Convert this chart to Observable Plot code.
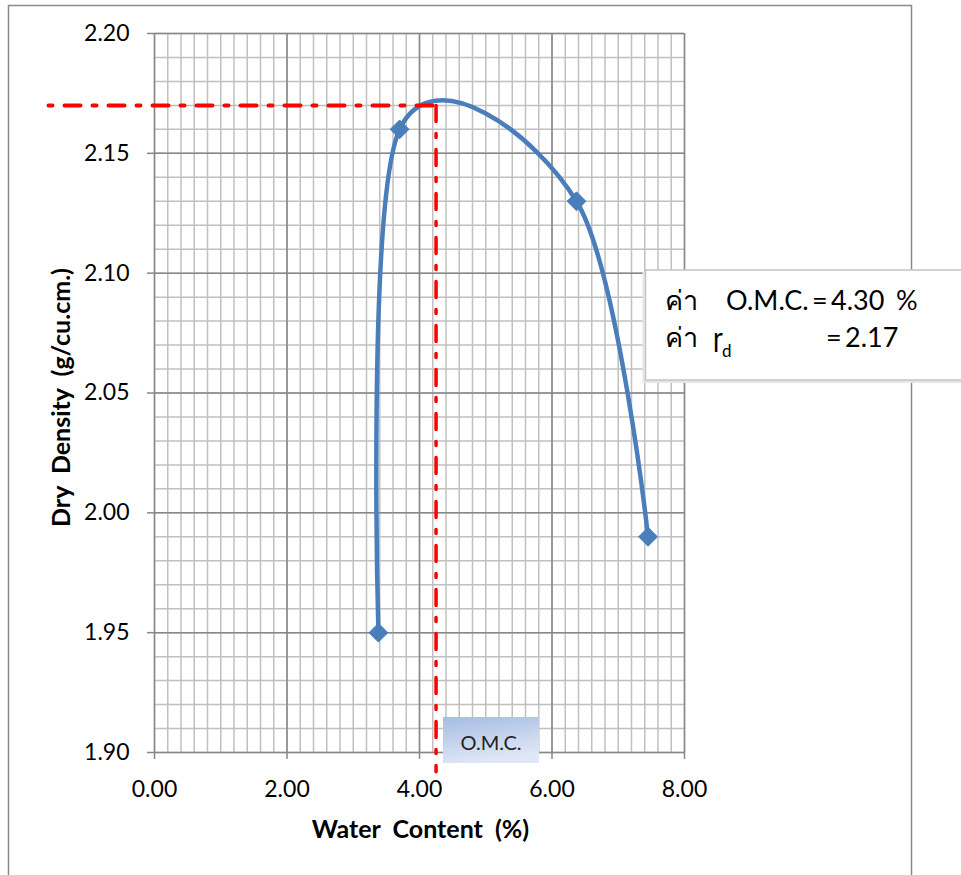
<!DOCTYPE html>
<html><head><meta charset="utf-8">
<script src="https://cdn.jsdelivr.net/npm/d3@7"></script>
<script src="https://cdn.jsdelivr.net/npm/@observablehq/plot@0.6"></script>
<style>
html,body{margin:0;padding:0;background:#fff;overflow:hidden;}
#chart{position:relative;width:961px;height:875px;}
</style></head><body><div id="chart"></div>
<script>
// ---- data ----
const waterContent = [3.38, 3.70, 6.37, 7.45];
const dryDensity = [1.95, 2.16, 2.13, 1.99];
const xTicks = [0, 2, 4, 6, 8];
const yTicks = [1.90, 1.95, 2.00, 2.05, 2.10, 2.15, 2.20];
const xMinorStep = 0.2, yMinorStep = 0.01;
const omcValue = 4.30, maxDryDensity = 2.17;
const guideX = [-1.6, 4.25];        // horizontal dash-dot guide (x from / to)
const guideY = [2.17, 1.892];       // vertical dash-dot guide (y from / to)
const xTitle = "Water\u00a0 Content\u00a0 (%)";
const yTitle = "Dry\u00a0 Density\u00a0 (g/cu.cm.)";

const points = waterContent.map((x, i) => ({x, y: dryDensity[i]}));
const hGuide = guideX.map(x => ({x, y: maxDryDensity}));
const vGuide = guideY.map(y => ({x: guideX[1], y}));
const xMinor = d3.range(0, Math.round(8 / xMinorStep) + 1).map(i => +(i * xMinorStep).toFixed(2));
const yMinor = d3.range(0, Math.round(0.30 / yMinorStep) + 1).map(i => +(1.90 + i * yMinorStep).toFixed(2));

const minor = {stroke: "#c0c0c0", strokeOpacity: 1, strokeWidth: 1.5};
const major = {stroke: "#878787", strokeOpacity: 1, strokeWidth: 1.5};

const svg = Plot.plot({
  width: 961, height: 875,
  marginLeft: 154, marginRight: 277, marginTop: 33, marginBottom: 123,
  x: {domain: [0, 8]},
  y: {domain: [1.90, 2.20]},
  style: {fontFamily: "Lato, 'Noto Sans', sans-serif", fontSize: "23px", color: "#000", background: "#fff", overflow: "visible"},
  marks: [
    Plot.gridX(xMinor, minor),
    Plot.gridY(yMinor, minor),
    Plot.gridX(xTicks, major),
    Plot.gridY(yTicks, major),
    Plot.axisY(yTicks, {tickSize: 7, stroke: "#878787", strokeWidth: 1.5, fill: "none", tickFormat: () => "", label: null}),
    Plot.axisX(xTicks, {tickSize: 7, stroke: "#878787", strokeWidth: 1.5, fill: "none", tickFormat: () => "", label: null}),
    Plot.axisY(yTicks, {tickSize: 0, tickPadding: 25, tickFormat: d => d.toFixed(2), label: null}),
    Plot.axisX(xTicks, {tickSize: 0, tickPadding: 28, tickFormat: d => d.toFixed(2), label: null}),
    Plot.line(points, {x: "x", y: "y", curve: "cardinal", stroke: "#4a7ebb", strokeWidth: 4.5}),
    Plot.dot(points, {x: "x", y: "y", symbol: "diamond2", r: 8.5, fill: "#4a7ebb", stroke: "#4a7ebb", strokeWidth: 1}),
    Plot.line(hGuide, {x: "x", y: "y", stroke: "#ff0000", strokeWidth: 4, strokeDasharray: "4,12,16,12"}),
    Plot.line(vGuide, {x: "x", y: "y", stroke: "#ff0000", strokeWidth: 3.5, strokeDasharray: "16,12,4,12"})
  ]
});
document.getElementById("chart").appendChild(svg);

// ---- annotations ----
const s = d3.select(svg);
s.append("rect").attr("x", 8.5).attr("y", 5.5).attr("width", 903).attr("height", 900)
  .attr("fill", "none").attr("stroke", "#8a8a8a").attr("stroke-width", 1.5);

s.append("text").attr("x", 420.5).attr("y", 838).attr("text-anchor", "middle")
  .attr("font-weight", "bold").attr("font-size", 25).text(xTitle);
s.append("text").attr("transform", "translate(70,397.5) rotate(-90)").attr("text-anchor", "middle")
  .attr("font-weight", "bold").attr("font-size", 25).text(yTitle);

// result box
s.append("rect").attr("x", 642.5).attr("y", 272).attr("width", 340).attr("height", 111)
  .attr("fill", "#e6e6e6");
s.append("rect").attr("x", 645.5).attr("y", 270).attr("width", 340).attr("height", 110)
  .attr("fill", "#fff").attr("stroke", "#c4c4c4").attr("stroke-width", 1.5);
const bt = (x, y, t, fs = 27) => s.append("text").attr("x", x).attr("y", y)
  .attr("text-anchor", "start").attr("font-size", fs).text(t);
bt(665, 310, "ค่า");
bt(726, 310, "O.M.C.");
bt(812, 310, "=");
bt(831, 310, omcValue.toFixed(2));
bt(896, 310, "%");
bt(665, 347, "ค่า");
bt(713, 347, "ɼ");
bt(722, 357, "d", 17);
bt(826, 347, "=");
bt(845, 347, maxDryDensity.toFixed(2));

// O.M.C. label box
const defs = s.append("defs");
const g = defs.append("linearGradient").attr("id", "omcgrad").attr("x1", 0).attr("y1", 0).attr("x2", 0.3).attr("y2", 1);
g.append("stop").attr("offset", 0).attr("stop-color", "#a5bce3");
g.append("stop").attr("offset", 1).attr("stop-color", "#dfe7f6");
s.append("rect").attr("x", 443).attr("y", 717).attr("width", 96).attr("height", 46).attr("fill", "url(#omcgrad)");
s.append("text").attr("x", 491).attr("y", 750).attr("text-anchor", "middle").attr("font-size", 20)
  .attr("fill", "#222").text("O.M.C.");
</script></body></html>
